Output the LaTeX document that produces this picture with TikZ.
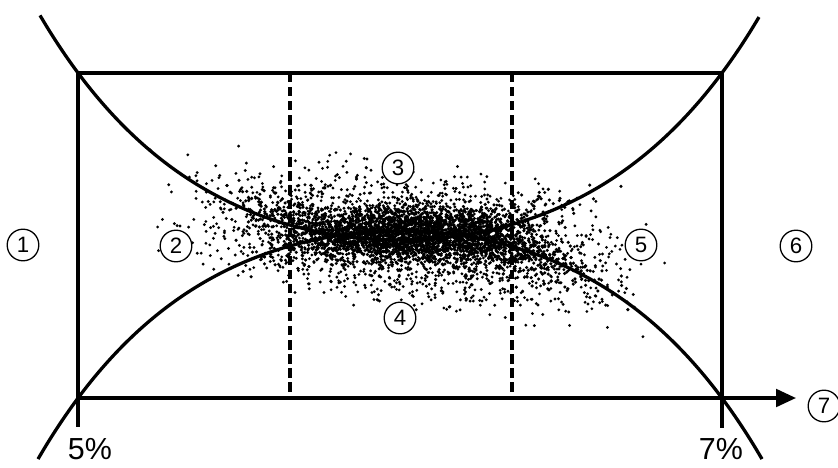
\documentclass[tikz,border=0pt]{standalone}
\usepackage{fontspec}
\setmainfont{Liberation Sans}
\usepackage{tikz}
\usetikzlibrary{arrows.meta,positioning,calc}

\tikzset{
  frame/.style={line width=2.8pt},
  curve/.style={line width=2.8pt, smooth},
  split/.style={line width=2.6pt, dash pattern=on 8pt off 4pt},
  circnum/.style={circle, draw, line width=1.1pt, inner sep=0pt, minimum size=27pt,
    font=\fontsize{19}{20}\selectfont},
  pct/.style={font=\fontsize{26}{28}\selectfont, inner sep=0pt},
}

\begin{document}
\begin{tikzpicture}[x=0.03cm, y=-0.03cm,
    declare function={yu(\x)=240-66.3*(cosh(0.006*(\x-400))-1);
                      yl(\x)=231+66.3*(cosh(0.006*(\x-400))-1);}]
        \useasboundingbox (0,0) rectangle (838,467);
        % corners of the box
        \coordinate (tl) at (78,73);
        \coordinate (tr) at (722,73);
        \coordinate (bl) at (78,398);
        \coordinate (br) at (722,398);
        \coordinate (axend) at (796,398);
        % scatter cloud
        \pgfmathsetseed{17}
        \foreach \i in {1,...,2300}{
            \pgfmathsetmacro\dx{95*(rand+rand+rand)}
            \pgfmathsetmacro\dy{29*(rand+rand+rand)}
            \fill (410+\dx, 238+0.12*\dx+\dy) circle (1.35pt);
        }
        \foreach \i in {1,...,2600}{
            \pgfmathsetmacro\bx{420+75*(rand+rand+rand)}
            \pgfmathsetmacro\pick{rand-(\bx-400)/250}
            \pgfmathsetmacro\by{(\pick>0 ? yu(\bx) : yl(\bx))+12*(rand+rand+rand)}
            \fill (\bx,\by) circle (1.5pt);
        }
        % box and axis
        \draw[frame] (bl) -- ++(0,29) (bl) -- (tl) -- (tr) -- (br) -- ++(0,30);
        \draw[frame, -{Triangle[length=17pt,width=15pt]}] (bl) -- (axend);
        \draw[split] (290,73) -- (290,398);
        \draw[split] (512,73) -- (512,398);
        % the two curves
        \draw[curve] plot[domain=40:759, samples=90] (\x,{yu(\x)});
        \draw[curve] plot[domain=38:762, samples=90] (\x,{yl(\x)});
        % labels
        \node[circnum, fill=white] (n3) at (398,168) {3};
        \node[circnum, fill=white] (n4) at (400,318) {4};
        \node[circnum, fill=white] (n2) at (176,246) {2};
        \node[circnum, fill=white] (n5) at (641,245) {5};
        \node[circnum] (n1) at (23,245) {1};
        \node[circnum] (n6) at (796,246) {6};
        \node[circnum] (n7) at (824,406) {7};
        \node[pct] (p5) at (90,449) {5\%};
        \node[pct] (p7) at (721,449) {7\%};
    \end{tikzpicture}
\end{document}
